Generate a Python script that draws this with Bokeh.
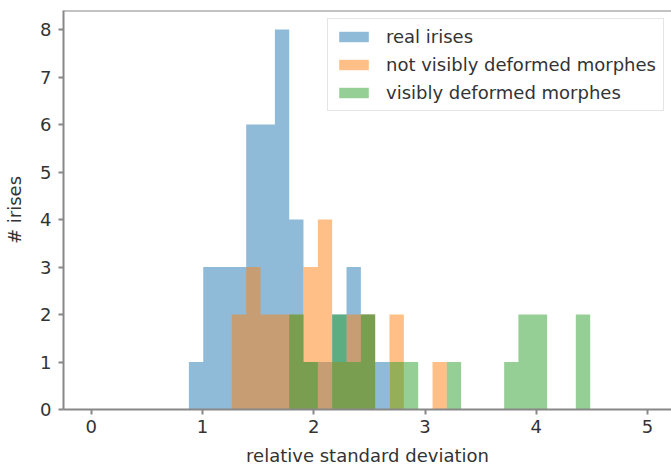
from bokeh.plotting import figure
from bokeh.models import Range1d, FixedTicker, Legend, LegendItem, Span
from bokeh.embed import file_html
from bokeh.resources import INLINE

# shared histogram bin edges (relative standard deviation)
bin_edges = [0.877, 1.006, 1.135, 1.263, 1.392, 1.521, 1.650, 1.779, 1.907,
             2.036, 2.165, 2.294, 2.423, 2.551, 2.680, 2.809, 2.938, 3.067,
             3.195, 3.324, 3.453, 3.582, 3.711, 3.839, 3.968, 4.097, 4.226,
             4.355, 4.484]

# counts per bin
real_irises = [1, 3, 3, 3, 6, 6, 8, 4, 1, 1, 2, 3, 2, 1,
               0, 0, 0, 0, 0, 0, 0, 0, 0, 0, 0, 0, 0, 0]
not_visibly_deformed = [0, 0, 0, 2, 3, 2, 2, 2, 3, 4, 1, 2, 2, 0,
                        2, 0, 0, 1, 0, 0, 0, 0, 0, 0, 0, 0, 0, 0]
visibly_deformed = [0, 0, 0, 0, 0, 0, 0, 2, 1, 0, 2, 1, 2, 0,
                    1, 1, 0, 0, 1, 0, 0, 0, 1, 2, 2, 0, 0, 2]

series_names = ["real irises", "not visibly deformed morphes", "visibly deformed morphes"]
series_colors = ["#1f77b4", "#ff7f0e", "#2ca02c"]

x_ticks = [0, 1, 2, 3, 4, 5]
y_ticks = [0, 1, 2, 3, 4, 5, 6, 7, 8]

FONT = "DejaVu Sans"
TEXT_COLOR = "#333333"
SPINE_COLOR = "#888888"

p = figure(width=671, height=468, output_backend="svg", toolbar_location=None,
           x_range=Range1d(-0.25, 5.215), y_range=Range1d(0, 8.4),
           min_border_left=63, min_border_right=0, min_border_top=10,
           min_border_bottom=59)
p.outline_line_color = None
p.background_fill_color = "white"
p.border_fill_color = "white"
p.xgrid.visible = False
p.ygrid.visible = False

items = []
for name, counts, color in zip(series_names,
                               [real_irises, not_visibly_deformed, visibly_deformed],
                               series_colors):
    # step area: each bin's count holds from its left edge to the next edge
    r = p.varea_step(x=bin_edges, y1=[0] * len(bin_edges), y2=list(counts) + [0],
                     step_mode="after", fill_color=color, fill_alpha=0.5)
    items.append(LegendItem(label=name, renderers=[r]))

# top spine
p.add_layout(Span(location=8.4, dimension="width", line_color=SPINE_COLOR, line_width=2))

for ax in (p.xaxis[0], p.yaxis[0]):
    ax.axis_line_color = SPINE_COLOR
    ax.axis_line_width = 2
    ax.major_tick_line_color = SPINE_COLOR
    ax.major_tick_line_width = 2
    ax.major_tick_out = 5
    ax.major_tick_in = 0
    ax.minor_tick_line_color = None
    ax.major_label_text_font = FONT
    ax.major_label_text_font_size = "18px"
    ax.major_label_text_color = TEXT_COLOR
    ax.axis_label_text_font = FONT
    ax.axis_label_text_font_size = "18px"
    ax.axis_label_text_font_style = "normal"
    ax.axis_label_text_color = TEXT_COLOR

p.xaxis[0].ticker = FixedTicker(ticks=x_ticks)
p.yaxis[0].ticker = FixedTicker(ticks=y_ticks)
p.xaxis[0].axis_label = "relative standard deviation"
p.yaxis[0].axis_label = "# irises"
p.xaxis[0].major_label_standoff = 5
p.xaxis[0].axis_label_standoff = 9
p.yaxis[0].major_label_standoff = 7
p.yaxis[0].axis_label_standoff = 12

legend = Legend(items=items, location=(264, 298), margin=0,
                padding=7, spacing=7, glyph_width=37, glyph_height=13,
                label_height=20, label_standoff=14,
                label_text_font=FONT, label_text_font_size="18px",
                label_text_color=TEXT_COLOR,
                border_line_color="#cccccc", border_line_width=1,
                background_fill_color="white", background_fill_alpha=0.8)
p.add_layout(legend)

open("out.html", "w").write(file_html(p, INLINE))
